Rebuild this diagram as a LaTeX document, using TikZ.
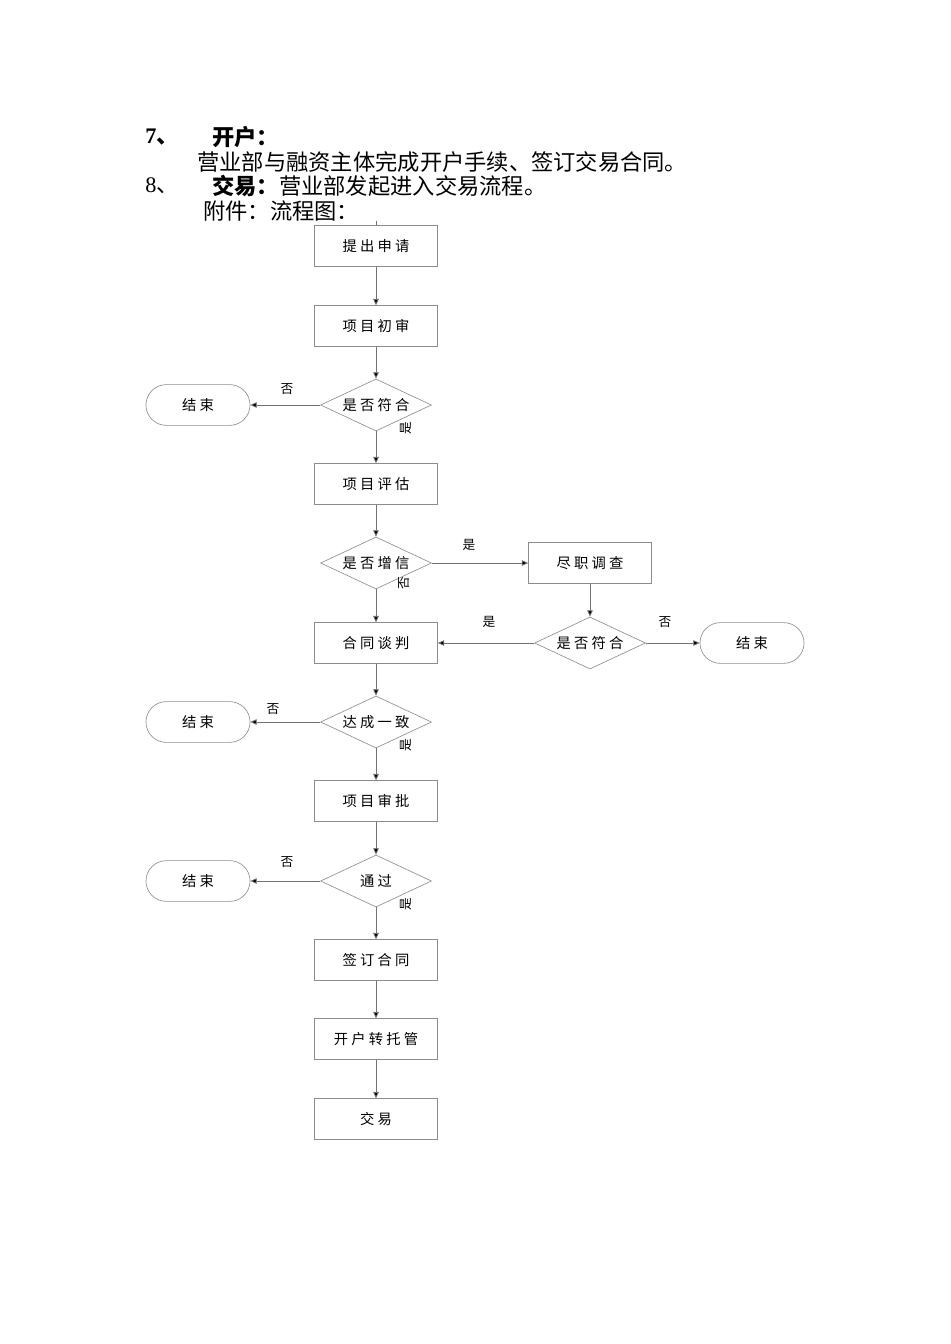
\documentclass[tikz,border=0pt]{standalone}
\usepackage{fontspec}
\setmainfont{Liberation Serif}
\newfontfamily\cjk{Noto Sans CJK SC}
\newfontfamily\cjkflow[LetterSpace=22]{Noto Sans CJK SC}
\usetikzlibrary{shapes.geometric}
\usetikzlibrary{arrows.meta}
\definecolor{edge}{rgb}{0.55, 0.55, 0.55}
\definecolor{wire}{rgb}{0.45, 0.45, 0.45}

\begin{document}
\begin{tikzpicture}[x=0.0221cm, y=-0.0221cm,
  proc/.style={draw=edge, minimum width=2.72cm, minimum height=0.9cm, font=\cjkflow\fontsize{9}{10}\selectfont},
  ask/.style={draw=edge, diamond, aspect=2.1, minimum width=2.45cm, minimum height=1.15cm, inner sep=0pt, font=\cjkflow\fontsize{9}{10}\selectfont},
  halt/.style={draw=edge, rounded corners=0.45cm, minimum width=2.3cm, minimum height=0.9cm, font=\cjkflow\fontsize{9}{10}\selectfont},
  lbl/.style={inner sep=0pt, font=\cjk\fontsize{8}{9}\selectfont},
  head/.style={anchor=west, inner sep=0pt, font=\cjk\fontsize{14}{16}\selectfont},
  flow/.style={draw=wire, line width=0.5pt, -{Triangle[length=4pt, width=3.5pt, fill=black]}}]
\useasboundingbox (0, 0) rectangle (950, 1344);
% text above the chart
\node[head, font=\fontsize{14}{16}\selectfont\bfseries] (n7) at (145, 137) {7{\cjk 、}};
\node[head, font=\cjk\fontsize{14}{16}\selectfont\bfseries] (open) at (212, 137) {开户：};
\node[head] (opentext) at (197, 162) {营业部与融资主体完成开户手续、签订交易合同。};
\node[head, font=\fontsize{14}{16}\selectfont] (n8) at (145, 186) {8{\cjk 、}};
\node[head] (trade) at (212, 186) {{\bfseries 交易：}营业部发起进入交易流程。};
\node[head] (attach) at (203, 211) {附件：流程图：};
% main column
\coordinate (top) at (376, 221);
\node[proc] (apply) at (376, 246) {提出申请};
\node[proc] (first) at (376, 326) {项目初审};
\node[ask] (ok1) at (376, 405) {是否符合};
\node[halt] (end1) at (198, 405) {结束};
\node[proc] (assess) at (376, 484) {项目评估};
\node[ask] (credit) at (376, 563) {是否增信};
\node[proc] (check) at (590, 563) {尽职调查};
\node[proc] (talk) at (376, 643) {合同谈判};
\node[ask] (ok2) at (590, 643) {是否符合};
\node[halt] (end2) at (752, 643) {结束};
\node[ask] (agree) at (376, 722) {达成一致};
\node[halt] (end3) at (198, 722) {结束};
\node[proc] (approve) at (376, 801) {项目审批};
\node[ask] (pass) at (376, 881) {通过};
\node[halt] (end4) at (198, 881) {结束};
\node[proc] (sign) at (376, 960) {签订合同};
\node[proc] (custody) at (376, 1039) {开户转托管};
\node[proc] (deal) at (376, 1119) {交易};
% connectors
\draw[draw=wire, line width=0.5pt] (top) -- (apply);
\draw[flow] (apply) -- (first);
\draw[flow] (first) -- (ok1);
\draw[flow] (ok1) -- (end1);
\draw[flow] (ok1) -- (assess);
\draw[flow] (assess) -- (credit);
\draw[flow] (credit) -- (check);
\draw[flow] (credit) -- (talk);
\draw[flow] (check) -- (ok2);
\draw[flow] (ok2) -- (talk);
\draw[flow] (ok2) -- (end2);
\draw[flow] (talk) -- (agree);
\draw[flow] (agree) -- (end3);
\draw[flow] (agree) -- (approve);
\draw[flow] (approve) -- (pass);
\draw[flow] (pass) -- (end4);
\draw[flow] (pass) -- (sign);
\draw[flow] (sign) -- (custody);
\draw[flow] (custody) -- (deal);
% branch labels
\node[lbl] (no1) at (287, 389) {否};
\node[lbl, rotate=90] (yes1) at (406, 428) {是};
\node[lbl] (yes2) at (469, 545) {是};
\node[lbl, rotate=90] (no2) at (404, 583) {否};
\node[lbl] (yes3) at (489, 622) {是};
\node[lbl] (no3) at (665, 622) {否};
\node[lbl] (no4) at (273, 709) {否};
\node[lbl, rotate=90] (yes4) at (406, 745) {是};
\node[lbl] (no5) at (287, 862) {否};
\node[lbl, rotate=90] (yes5) at (406, 904) {是};
\end{tikzpicture}
\end{document}
